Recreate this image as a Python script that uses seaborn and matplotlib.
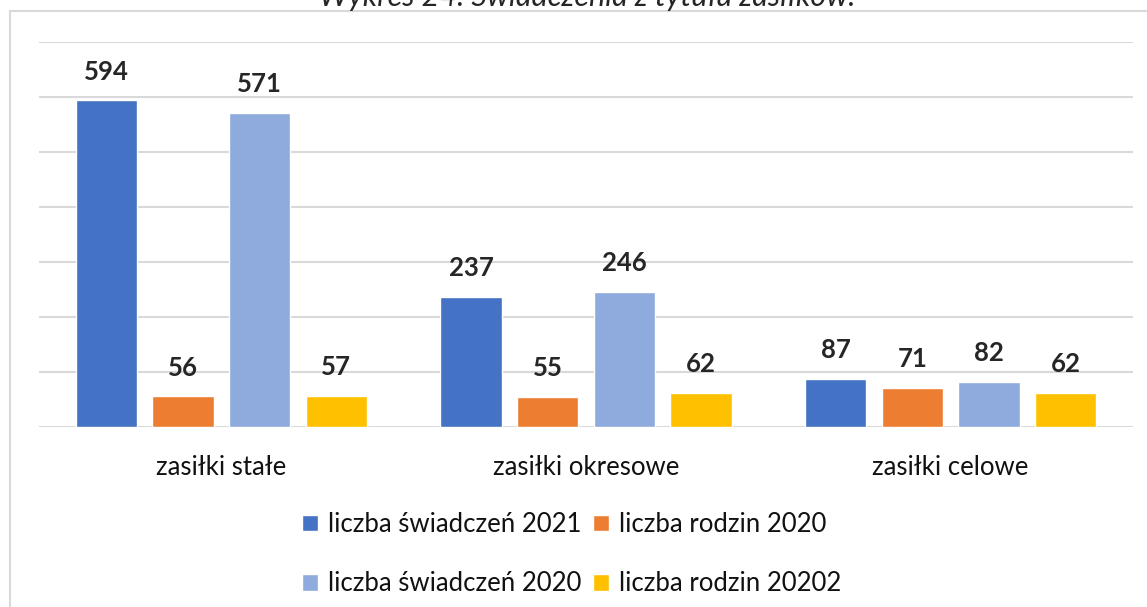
import matplotlib
matplotlib.use("Agg")
import matplotlib.pyplot as plt
import seaborn as sns
import pandas as pd
from matplotlib.patches import Rectangle

# dane
kategorie = ["zasiłki stałe", "zasiłki okresowe", "zasiłki celowe"]
serie = ["liczba świadczeń 2021", "liczba rodzin 2020",
         "liczba świadczeń 2020", "liczba rodzin 20202"]
swiadczenia_2021 = [594, 237, 87]
rodziny_2020 = [56, 55, 71]
swiadczenia_2020 = [571, 246, 82]
rodziny_20202 = [57, 62, 62]
kolory = ["#4472C4", "#ED7D31", "#8FAADC", "#FFC000"]
tytul = "Wykres 24. Świadczenia z tytułu zasiłków."

wartosci = [swiadczenia_2021, rodziny_2020, swiadczenia_2020, rodziny_20202]
df = pd.DataFrame(
    [(k, s, v[i]) for s, v in zip(serie, wartosci) for i, k in enumerate(kategorie)],
    columns=["kategoria", "seria", "wartosc"],
)

sns.set_theme(style="white")
plt.rcParams["font.family"] = ["Lato", "DejaVu Sans"]

fig = plt.figure(figsize=(11.47, 6.07), dpi=100)
ax = fig.add_axes([39 / 1147, 1 - 427 / 607, (1133 - 39) / 1147, (427 - 42) / 607])

sns.barplot(data=df, x="kategoria", y="wartosc", hue="seria",
            order=kategorie, hue_order=serie, palette=kolory,
            width=0.84, gap=0.2, ax=ax, legend=True, errorbar=None,
            saturation=1)

ax.set_ylim(0, 700)
ax.set_yticks(range(0, 701, 100))
ax.set_yticklabels([])
ax.tick_params(axis="y", length=0)
ax.tick_params(axis="x", length=0, labelsize=18.5, pad=20, labelcolor="#111111")
ax.set_xlabel("")
ax.set_ylabel("")
ax.yaxis.grid(True, color="#d9d9d9", linewidth=1.5)
ax.set_axisbelow(True)
for sp in ax.spines.values():
    sp.set_visible(False)

# etykiety wartości
for cont in ax.containers:
    ax.bar_label(cont, fmt="%d", padding=12, fontsize=18.5, fontweight="bold")

# legenda: kolejność w dwóch wierszach
handles, labels = ax.get_legend_handles_labels()
idx = [0, 2, 1, 3]
ax.legend([handles[i] for i in idx], [labels[i] for i in idx],
          ncol=2, loc="upper center", bbox_to_anchor=(0.487, -0.16),
          frameon=False, fontsize=18.5, handlelength=0.6, handleheight=0.6,
          handletextpad=0.4, columnspacing=0.45, labelspacing=1.35,
          labelcolor="#111111")

# ramka wykresu
fig.patches.append(Rectangle((10 / 1147, -0.1), 1.2, 1 - 11 / 607 + 0.1,
                             transform=fig.transFigure, fill=False,
                             edgecolor="#d9d9d9", linewidth=1.5))

fig.text(0.512, 1 - 6 / 607, tytul, ha="center", va="baseline", fontsize=22,
         style="italic")

fig.savefig("out.png", dpi=100)
